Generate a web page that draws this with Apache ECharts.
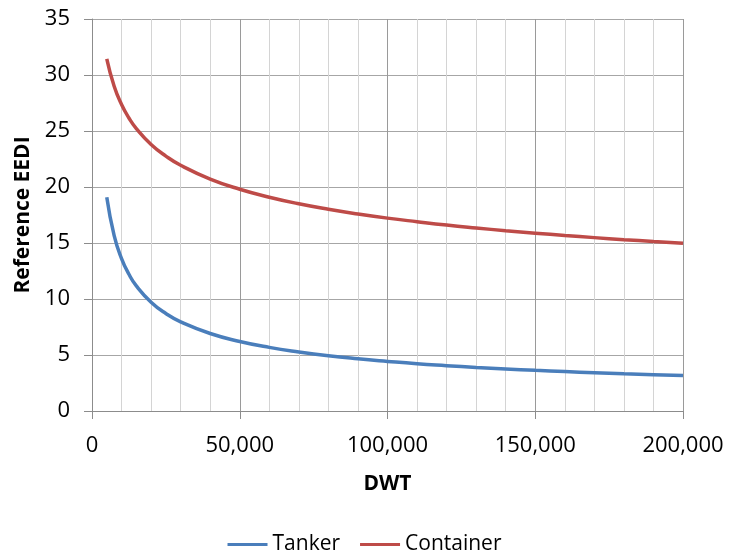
<!DOCTYPE html>
<html>
<head>
<meta charset="utf-8">
<script src="https://cdn.jsdelivr.net/npm/echarts@6/dist/echarts.min.js"></script>
<style>
  html, body { margin: 0; padding: 0; background: #fff; }
  #chart { width: 729px; height: 550px; }
</style>
</head>
<body>
<div id="chart"></div>
<script>
// Deadweight tonnage sample points
const dwt = [5000, 7500, 10000, 12500, 15000, 20000, 25000, 30000, 40000, 50000,
  60000, 70000, 80000, 90000, 100000, 110000, 120000, 130000, 140000, 150000,
  160000, 170000, 180000, 190000, 200000];

// Reference EEDI for each ship type at the DWT points above
const tanker = [19.09, 15.66, 13.61, 12.21, 11.17, 9.71, 8.70, 7.96, 6.92, 6.21,
  5.68, 5.27, 4.93, 4.66, 4.43, 4.22, 4.05, 3.89, 3.76, 3.63,
  3.52, 3.42, 3.32, 3.24, 3.16];
const container = [31.45, 28.99, 27.36, 26.16, 25.22, 23.80, 22.76, 21.94, 20.71, 19.80,
  19.09, 18.50, 18.01, 17.59, 17.22, 16.90, 16.60, 16.34, 16.10, 15.88,
  15.67, 15.48, 15.30, 15.14, 14.98];

const seriesNames = ['Tanker', 'Container'];
const seriesColors = ['#4a7ebb', '#be4b48'];

const pairs = (xs, ys) => xs.map((x, i) => [x, ys[i]]);

const font = '"Open Sans", sans-serif';
const chart = echarts.init(document.getElementById('chart'), null, { renderer: 'canvas' });

chart.setOption({
  animation: false,
  textStyle: { fontFamily: font },
  grid: { left: 92, right: 46, top: 19, bottom: 139, containLabel: false },
  legend: {
    data: seriesNames,
    top: 529,
    left: 'center',
    icon: 'rect',
    itemWidth: 40,
    itemHeight: 3,
    itemGap: 20,
    textStyle: { fontFamily: font, fontSize: 21, color: '#000' }
  },
  xAxis: {
    type: 'value',
    min: 0,
    max: 200000,
    interval: 50000,
    name: 'DWT',
    nameLocation: 'middle',
    nameGap: 63,
    nameTextStyle: { fontFamily: font, fontSize: 21, fontWeight: 'bold', color: '#000' },
    axisLine: { show: true, lineStyle: { color: '#8c8c8c', width: 1 } },
    axisTick: { show: true, inside: false, length: 8, lineStyle: { color: '#8c8c8c' } },
    minorTick: { show: false, splitNumber: 5 },
    minorSplitLine: { show: true, lineStyle: { color: '#d4d4d4', width: 1 } },
    splitLine: { show: true, lineStyle: { color: '#9a9a9a', width: 1 } },
    axisLabel: {
      margin: 24,
      fontFamily: font,
      fontSize: 22,
      color: '#000',
      formatter: v => v.toLocaleString('en-US')
    }
  },
  yAxis: {
    type: 'value',
    min: 0,
    max: 35,
    interval: 5,
    name: 'Reference EEDI',
    nameLocation: 'middle',
    nameGap: 56,
    nameTextStyle: { fontFamily: font, fontSize: 21, fontWeight: 'bold', color: '#000' },
    axisLine: { show: true, lineStyle: { color: '#8c8c8c', width: 1 } },
    axisTick: { show: true, inside: false, length: 8, lineStyle: { color: '#8c8c8c' } },
    splitLine: { show: true, lineStyle: { color: '#a6a6a6', width: 1 } },
    axisLabel: { margin: 22, fontFamily: font, fontSize: 22, color: '#000' }
  },
  series: [
    {
      name: seriesNames[0],
      type: 'line',
      data: pairs(dwt, tanker),
      smooth: true,
      showSymbol: false,
      symbol: 'none',
      color: seriesColors[0],
      lineStyle: { width: 3.5, color: seriesColors[0] }
    },
    {
      name: seriesNames[1],
      type: 'line',
      data: pairs(dwt, container),
      smooth: true,
      showSymbol: false,
      symbol: 'none',
      color: seriesColors[1],
      lineStyle: { width: 3.5, color: seriesColors[1] }
    }
  ]
});
</script>
</body>
</html>
